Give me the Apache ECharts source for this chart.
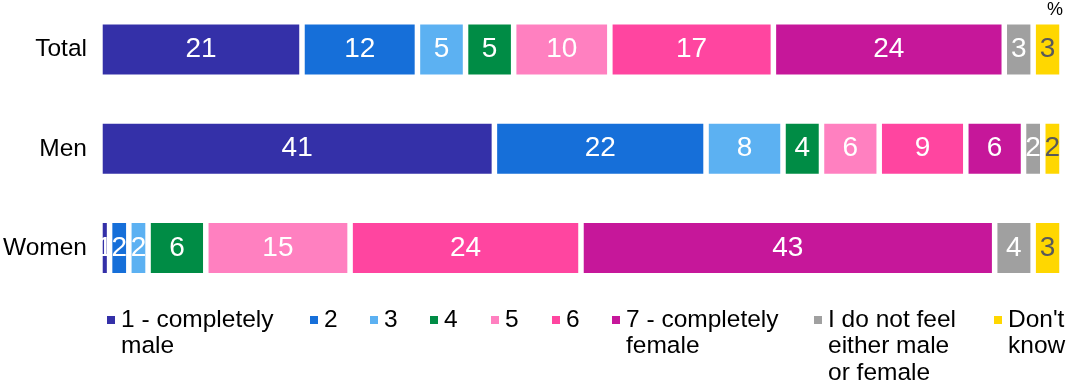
<!DOCTYPE html>
<html>
<head>
<meta charset="utf-8">
<script src="https://cdn.jsdelivr.net/npm/echarts@6/dist/echarts.min.js"></script>
<style>html,body{margin:0;padding:0;background:#fff}#c{width:1067px;height:383px}</style>
</head>
<body>
<div id="c"></div>
<script>
const categories = ['Total', 'Men', 'Women'];
const seriesNames = ['1 - completely\nmale', '2', '3', '4', '5', '6', '7 - completely\nfemale', 'I do not feel\neither male\nor female', "Don't\nknow"];
const s1 = [21, 41, 1];
const s2 = [12, 22, 2];
const s3 = [5, 8, 2];
const s4 = [5, 4, 6];
const s5 = [10, 6, 15];
const s6 = [17, 9, 24];
const s7 = [24, 6, 43];
const s8 = [3, 2, 4];
const s9 = [3, 2, 3];
const seriesValues = [s1, s2, s3, s4, s5, s6, s7, s8, s9];
const colors = ['#3430A8', '#166FD9', '#5CB1F2', '#008C45', '#FF80C0', '#FF45A0', '#C6179A', '#A0A0A0', '#FFD700'];
const labelColors = ['#fff', '#fff', '#fff', '#fff', '#fff', '#fff', '#fff', '#fff', '#595959'];
const legendLeft = [105, 308, 368, 428, 489, 550, 610, 812, 992];

const FONT = 'Liberation Sans, Arial, sans-serif';
const LH = 26.5;
const chart = echarts.init(document.getElementById('c'));

const legends = seriesNames.map((name, i) => {
  const n = name.split('\n').length;
  return {
    data: [name],
    left: legendLeft[i],
    top: 320 - (2 * n - 1) * LH / 2,
    padding: 0,
    orient: 'horizontal',
    icon: 'rect',
    itemWidth: 10,
    itemHeight: 10,
    selectedMode: false,
    formatter: (nm) => '\n'.repeat(nm.split('\n').length - 1) + nm,
    textStyle: {
      fontFamily: FONT,
      fontSize: 24.5,
      color: '#000',
      lineHeight: LH
    }
  };
});

chart.setOption({
  animation: false,
  color: colors,
  title: {
    text: '%',
    right: 4,
    top: 1,
    padding: 0,
    textStyle: { fontFamily: FONT, fontSize: 18, fontWeight: 'normal', color: '#000' }
  },
  legend: legends,
  grid: { left: 98.25, right: 5, top: -2, height: 299.5, containLabel: false },
  xAxis: {
    type: 'value', min: 0, max: 100, show: false
  },
  yAxis: {
    type: 'category', data: categories, inverse: true,
    axisLine: { show: false }, axisTick: { show: false },
    axisLabel: { fontFamily: FONT, fontSize: 24.5, color: '#000', margin: 13 }
  },
  series: seriesValues.map((vals, i) => ({
    name: seriesNames[i],
    type: 'bar',
    stack: 'all',
    data: vals,
    barWidth: 55.5,
    itemStyle: { color: colors[i], borderColor: '#fff', borderWidth: 2.75 },
    label: {
      show: true, position: 'inside', color: labelColors[i],
      fontFamily: FONT, fontSize: 28
    }
  }))
});
</script>
</body>
</html>
